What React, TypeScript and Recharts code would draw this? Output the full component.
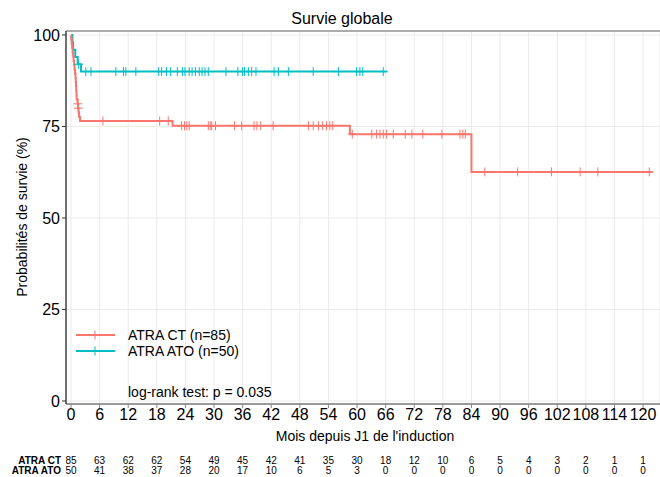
import { ComposedChart, Line, Scatter, XAxis, YAxis, CartesianGrid, ReferenceLine } from "recharts"

const FONT = "Liberation Sans, Arial, sans-serif"
const RED = "#F8766D"
const TEAL = "#00BFC4"

const monthTicks = [0, 6, 12, 18, 24, 30, 36, 42, 48, 54, 60, 66, 72, 78, 84, 90, 96, 102, 108, 114, 120]
const survTicks = [0, 25, 50, 75, 100]

// ATRA CT : event times (months) and survival (%) after each step
const ctStepTimes = [0, 0.05, 0.15, 0.25, 0.35, 0.45, 0.55, 0.65, 0.75, 0.85, 0.95, 1.0, 1.05, 1.1, 1.15, 1.2, 1.4, 1.5, 1.6, 1.7, 1.9, 21.3, 58.5, 84.0, 122]
const ctStepSurv = [100, 98.8, 97.6, 96.5, 95.3, 94.1, 92.9, 91.8, 90.6, 89.4, 88.2, 87.1, 85.9, 84.7, 83.5, 82.4, 81.2, 80.0, 78.8, 77.6, 76.5, 75.2, 72.9, 62.6, 62.6]
const ctCensorTimes = [1.42, 1.52, 6.7, 18.6, 20.4, 23.2, 23.8, 24.3, 24.8, 28.8, 29.2, 29.5, 30.3, 34.3, 35.8, 38.4, 39.0, 39.8, 42.4, 49.8, 50.8, 51.9, 52.8, 53.6, 54.3, 54.9, 59.0, 63.1, 64.1, 64.8, 65.5, 66.2, 67.6, 70.1, 71.5, 73.8, 77.8, 81.6, 82.2, 82.7, 86.8, 93.7, 100.8, 106.8, 110.5, 121.3]

// ATRA ATO
const atoStepTimes = [0, 0.3, 0.45, 0.9, 1.4, 2.1, 66.3]
const atoStepSurv = [100, 98, 96, 94, 92, 90, 90]
const atoCensorTimes = [1.6, 3.1, 4.2, 9.4, 11.0, 11.5, 13.6, 18.4, 19.0, 20.0, 20.9, 22.3, 23.4, 23.9, 24.8, 25.4, 26.1, 26.9, 27.5, 28.1, 28.8, 32.5, 35.0, 36.0, 36.4, 37.2, 37.9, 38.8, 42.6, 43.5, 45.6, 50.8, 56.1, 59.9, 60.6, 61.2, 65.5]

const ctAtRisk = [85, 63, 62, 62, 54, 49, 45, 42, 41, 35, 30, 18, 12, 10, 6, 5, 4, 3, 2, 1, 1]
const atoAtRisk = [50, 41, 38, 37, 28, 20, 17, 10, 6, 5, 3, 0, 0, 0, 0, 0, 0, 0, 0, 0, 0]

const groupNames = ["ATRA CT", "ATRA ATO"]
const groupLabels = ["ATRA CT (n=85)", "ATRA ATO (n=50)"]

const xDomain = [-1.05, 123.55]
const yDomain = [-0.82, 101.09]

function survAt(times: number[], surv: number[], t: number) {
  let s = surv[0]
  for (let i = 0; i < times.length; i++) if (times[i] <= t) s = surv[i]
  return s
}

const ctCurve = ctStepTimes.map((t, i) => ({ t, s: ctStepSurv[i] }))
const atoCurve = atoStepTimes.map((t, i) => ({ t, s: atoStepSurv[i] }))
const ctCensor = ctCensorTimes.map((t) => ({ t, s: survAt(ctStepTimes, ctStepSurv, t) }))
const atoCensor = atoCensorTimes.map((t) => ({ t, s: survAt(atoStepTimes, atoStepSurv, t) }))

const ctRisk = monthTicks.map((t, i) => ({ t, row: 1, n: ctAtRisk[i] }))
const atoRisk = monthTicks.map((t, i) => ({ t, row: 2, n: atoAtRisk[i] }))

const censorShape = (color: string) => (props: any) => {
  const { cx, cy } = props
  return (
    <g stroke={color} strokeWidth={1}>
      <line x1={cx} x2={cx} y1={cy - 4.5} y2={cy + 4.5} />
      <line x1={cx - 4.5} x2={cx + 4.5} y1={cy} y2={cy} />
    </g>
  )
}

const riskText = (props: any) => {
  const { cx, cy, payload } = props
  return (
    <text x={cx} y={cy} textAnchor="middle" dominantBaseline="central" fontSize={10} fontFamily={FONT} fill="#000">
      {payload.n}
    </text>
  )
}

const groupTick = (props: any) => {
  const { x, y, payload } = props
  return (
    <text x={x} y={y} textAnchor="end" dominantBaseline="central" fontSize={10} fontWeight="bold" fontFamily={FONT} fill="#000">
      {groupNames[payload.value - 1]}
    </text>
  )
}

export default function App() {
  return (
    <div style={{ position: "absolute", left: 0, top: 0, width: 660, height: 477, background: "#fff", fontFamily: FONT }}>
      <div style={{ position: "absolute", left: 0, top: 0 }}>
        <ComposedChart width={660} height={440} margin={{ top: 31, right: 0, left: 0, bottom: 0 }}>
          <CartesianGrid stroke="#ebebeb" strokeWidth={1} />
          <XAxis
            dataKey="t"
            type="number"
            domain={xDomain}
            ticks={monthTicks}
            interval={0}
            allowDataOverflow
            height={36}
            tickSize={4}
            tickMargin={1}
            tick={{ fontSize: 16, fill: "#000", fontFamily: FONT }}
            tickLine={{ stroke: "#888" }}
            axisLine={{ stroke: "#999", strokeWidth: 2 }}
          />
          <YAxis
            type="number"
            domain={yDomain}
            ticks={survTicks}
            interval={0}
            allowDataOverflow
            width={66}
            tickSize={4}
            tickMargin={2}
            tick={{ fontSize: 16, fill: "#000", fontFamily: FONT }}
            tickLine={{ stroke: "#333" }}
            axisLine={{ stroke: "#444", strokeWidth: 1.5 }}
          />
          <ReferenceLine y={yDomain[1]} stroke="#aaa" strokeWidth={2} />
          <Line data={atoCurve} dataKey="s" type="stepAfter" stroke={TEAL} strokeWidth={2} dot={false} isAnimationActive={false} />
          <Line data={ctCurve} dataKey="s" type="stepAfter" stroke={RED} strokeWidth={2} dot={false} isAnimationActive={false} />
          <Scatter data={atoCensor} dataKey="s" shape={censorShape(TEAL)} isAnimationActive={false} />
          <Scatter data={ctCensor} dataKey="s" shape={censorShape(RED)} isAnimationActive={false} />
        </ComposedChart>
      </div>
      <div style={{ position: "absolute", left: 0, top: 440 }}>
        <ComposedChart width={660} height={37} margin={{ top: 0, right: 0, left: 0, bottom: 0 }}>
          <XAxis dataKey="t" type="number" domain={xDomain} allowDataOverflow hide />
          <YAxis
            type="number"
            domain={[-1, 2.7]}
            allowDataOverflow
            reversed
            ticks={[1, 2]}
            interval={0}
            width={66}
            axisLine={false}
            tickLine={false}
            tickSize={0}
            tickMargin={5}
            tick={groupTick}
          />
          <Scatter data={ctRisk} dataKey="row" shape={riskText} isAnimationActive={false} />
          <Scatter data={atoRisk} dataKey="row" shape={riskText} isAnimationActive={false} />
        </ComposedChart>
      </div>
      <svg width={660} height={477} style={{ position: "absolute", left: 0, top: 0, pointerEvents: "none" }} fontFamily={FONT}>
        <text x={342} y={18} textAnchor="middle" dominantBaseline="central" fontSize={16} fill="#000">Survie globale</text>
        <text transform="translate(22,217) rotate(-90)" textAnchor="middle" dominantBaseline="central" fontSize={14} fill="#000">
          Probabilités de survie (%)
        </text>
        <text x={365} y={436} textAnchor="middle" dominantBaseline="central" fontSize={14} fill="#000">Mois depuis J1 de l'induction</text>
        <g>
          <line x1={76} x2={115} y1={335} y2={335} stroke={RED} strokeWidth={2} />
          <line x1={95} x2={95} y1={330.5} y2={339.5} stroke={RED} strokeWidth={1} />
          <text x={128} y={335} dominantBaseline="central" fontSize={14} fill="#000">{groupLabels[0]}</text>
          <line x1={76} x2={115} y1={351} y2={351} stroke={TEAL} strokeWidth={2} />
          <line x1={95} x2={95} y1={346.5} y2={355.5} stroke={TEAL} strokeWidth={1} />
          <text x={128} y={351} dominantBaseline="central" fontSize={14} fill="#000">{groupLabels[1]}</text>
        </g>
        <text x={128} y={392} dominantBaseline="central" fontSize={14} fill="#000">log-rank test: p = 0.035</text>
      </svg>
    </div>
  )
}
